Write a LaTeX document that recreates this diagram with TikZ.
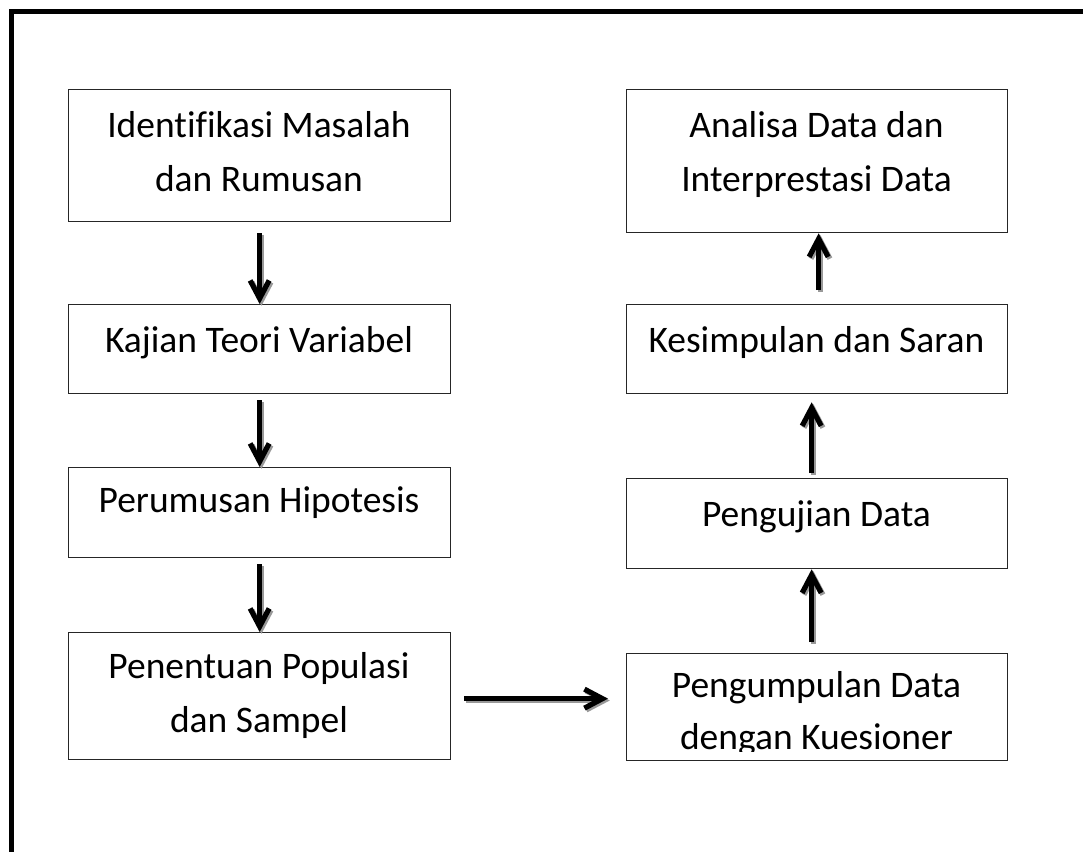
\documentclass[tikz,border=0pt]{standalone}
\usepackage{fontspec}
\setmainfont[Ligatures=CommonOff]{Carlito}
\usetikzlibrary{arrows.meta}
\begin{document}
\begin{tikzpicture}[x=1pt,y=-1pt,
  box/.style={draw=black!85, line width=1.3pt, inner sep=0pt, anchor=north west},
  txt/.style={font=\fontsize{37.5}{45}\selectfont, anchor=base, inner sep=0pt},
  arr/.style={line width=5.2pt, -{Straight Barb[length=18pt,width=19pt]}},
  shd/.style={arr, draw=black!40, transform canvas={shift={(1.8pt,-1.8pt)}}},
]
\useasboundingbox (0,0) rectangle (1083,852);
\fill[white] (0,0) rectangle (1083,852);
\draw[line width=4.5pt] (1083,11.5) -- (11.5,11.5) -- (11.5,852);

% boxes
\node[box, minimum width=382pt, minimum height=132pt] (L1) at (68,89) {};
\node[box, minimum width=382pt, minimum height=89pt]  (L2) at (68,304) {};
\node[box, minimum width=382pt, minimum height=90pt]  (L3) at (68,467) {};
\node[box, minimum width=382pt, minimum height=127pt] (L4) at (68,632) {};
\node[box, minimum width=381pt, minimum height=143pt] (R1) at (626,89) {};
\node[box, minimum width=381pt, minimum height=89pt]  (R2) at (626,304) {};
\node[box, minimum width=381pt, minimum height=90pt]  (R3) at (626,478) {};
\node[box, minimum width=381pt, minimum height=107pt] (R4) at (626,653) {};

% texts
\node[txt] (t1a) at (259,137) {Identifikasi Masalah};
\node[txt] (t1b) at (259,191) {dan Rumusan};
\node[txt] (t2) at (259,352) {Kajian Teori Variabel};
\node[txt] (t3) at (259,512) {Perumusan Hipotesis};
\node[txt] (t4a) at (259,678) {Penentuan Populasi};
\node[txt] (t4b) at (259,732) {dan Sampel};
\node[txt] (r1a) at (816.5,137) {Analisa Data dan};
\node[txt] (r1b) at (816.5,191) {Interprestasi Data};
\node[txt] (r2) at (816.5,352) {Kesimpulan dan Saran};
\node[txt] (r3) at (816.5,526) {Pengujian Data};
\begin{scope}
  \clip (626,653) rectangle (1007,751);
  \node[txt] (r4a) at (816.5,697) {Pengumpulan Data};
  \node[txt] (r4b) at (816.5,749) {dengan Kuesioner};
\end{scope}

% arrows (shadow then arrow)
\foreach \s in {shd,arr}{
  \draw[\s] ([yshift=-11pt]L1.south) -- (L2.north);
  \draw[\s] ([yshift=-6pt]L2.south) -- (L3.north);
  \draw[\s] ([yshift=-6pt]L3.south) -- (L4.north);
  \draw[\s] ([xshift=13pt,yshift=-2.5pt]L4.east) -- ([xshift=-18pt,yshift=8.5pt]R4.west);
  \draw[\s] ([xshift=-5.5pt,yshift=11pt]R4.north) -- ([xshift=-5.5pt]R3.south);
  \draw[\s] ([xshift=-5.5pt,yshift=5pt]R3.north) -- ([xshift=-5.5pt,yshift=-8pt]R2.south);
  \draw[\s] ([xshift=1.5pt,yshift=14pt]R2.north) -- ([xshift=1.5pt]R1.south);
}
\end{tikzpicture}
\end{document}
